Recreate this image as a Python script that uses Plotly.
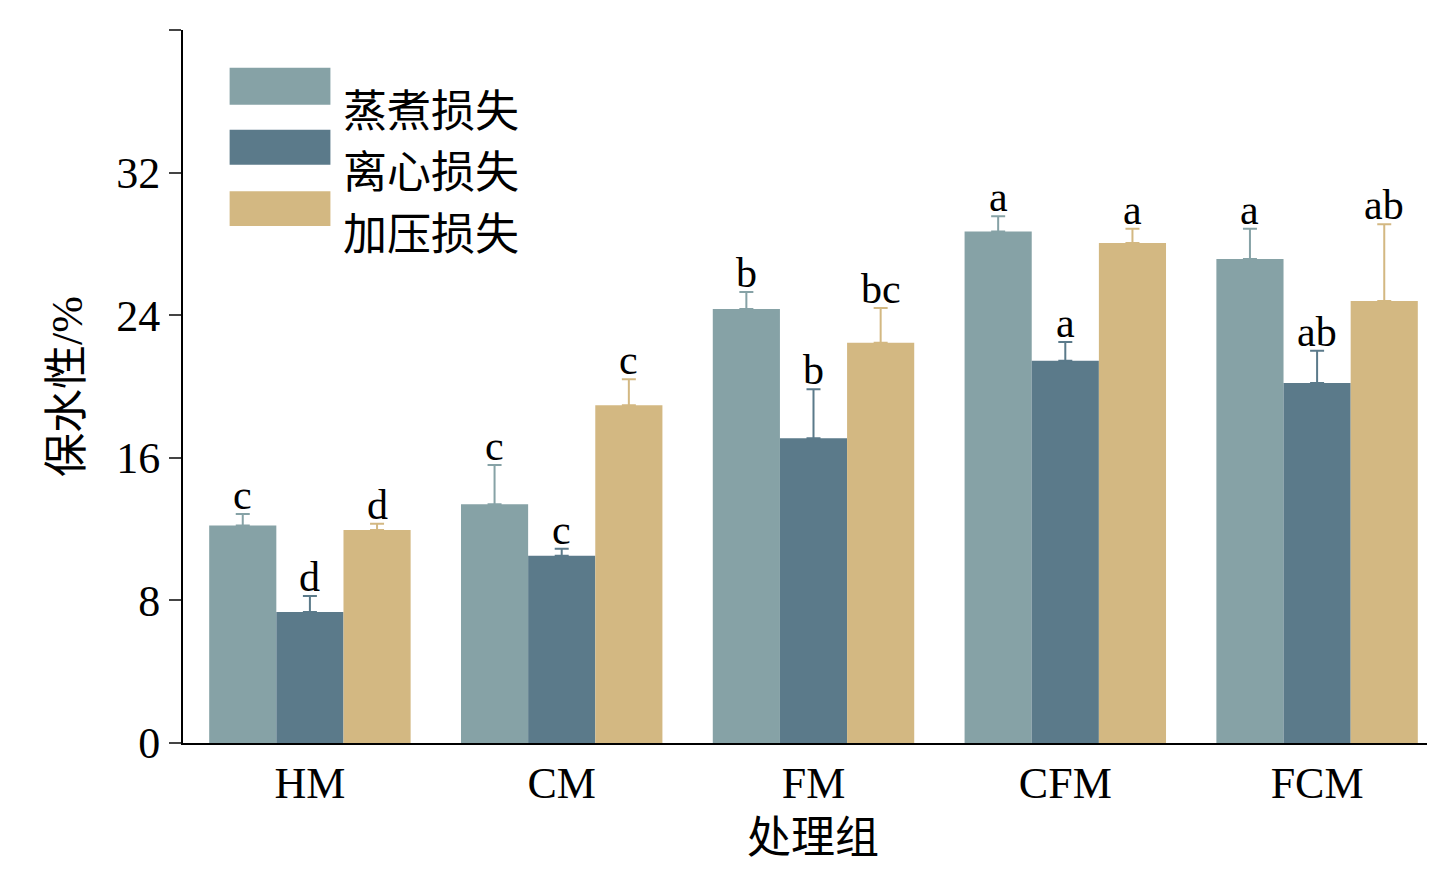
import plotly.graph_objects as go

groups = ["HM", "CM", "FM", "CFM", "FCM"]
series = ["蒸煮损失", "离心损失", "加压损失"]
colors = ["#86a2a6", "#5b7a8a", "#d3b882"]
cook = [12.2, 13.4, 24.35, 28.7, 27.15]
cook_err = [0.65, 2.2, 0.95, 0.85, 1.7]
cent = [7.35, 10.5, 17.1, 21.45, 20.2]
cent_err = [0.9, 0.4, 2.75, 1.05, 1.8]
press = [11.95, 18.95, 22.45, 28.05, 24.8]
press_err = [0.35, 1.45, 1.95, 0.8, 4.3]
letters = [["c", "c", "b", "a", "a"],
           ["d", "c", "b", "a", "ab"],
           ["d", "c", "bc", "a", "ab"]]

serif = "Liberation Serif, Noto Sans CJK SC"
fig = go.Figure()
vals = [cook, cent, press]
errs = [cook_err, cent_err, press_err]
for i, name in enumerate(series):
    fig.add_trace(go.Bar(
        x=groups, y=vals[i], name=name, marker_color=colors[i],
        marker_line_width=0,
        error_y=dict(type="data", array=errs[i], arrayminus=[0]*5,
                     color=colors[i], thickness=2, width=7),
        offsetgroup=str(i)))

# letter annotations above error bars
offsets = [-0.267, 0, 0.267]
for i in range(3):
    for j, g in enumerate(groups):
        fig.add_annotation(x=j + offsets[i], y=vals[i][j] + errs[i][j],
                           text=letters[i][j], showarrow=False, yanchor="bottom",
                           yshift=-6, font=dict(family=serif, size=42, color="black"))

# legend drawn as big swatches
sw_y = [(0.895, 0.947), (0.811, 0.860), (0.725, 0.774)]
for i, name in enumerate(series):
    y0, y1 = sw_y[i]
    fig.add_shape(type="rect", xref="paper", yref="paper", x0=0.037, x1=0.117,
                  y0=y0, y1=y1, fillcolor=colors[i], line_width=0)
    fig.add_annotation(xref="paper", yref="paper", x=0.125, y=(y0 + y1) / 2,
                       text=name, showarrow=False, xanchor="left",
                       font=dict(family=serif, size=44, color="black"))

fig.update_layout(
    width=1435, height=878, plot_bgcolor="white", paper_bgcolor="white",
    barmode="group", bargap=0.2, bargroupgap=0,
    margin=dict(l=175, r=0, t=22, b=143, autoexpand=False),
    font=dict(family=serif, size=44, color="black"),
    showlegend=False,
    xaxis=dict(showline=True, linecolor="black", linewidth=2, ticks="",
               range=[-0.504, 4.5], type="category",
               title=dict(text="处理组", font=dict(size=44), standoff=15)),
    yaxis=dict(range=[0, 40], dtick=8, showline=True, linecolor="black",
               linewidth=2, ticks="outside", ticklen=12, tickwidth=2,
               showgrid=False, zeroline=False,
               title=dict(text="保水性/%", font=dict(size=44), standoff=20)),
)
fig.write_html("out.html")
